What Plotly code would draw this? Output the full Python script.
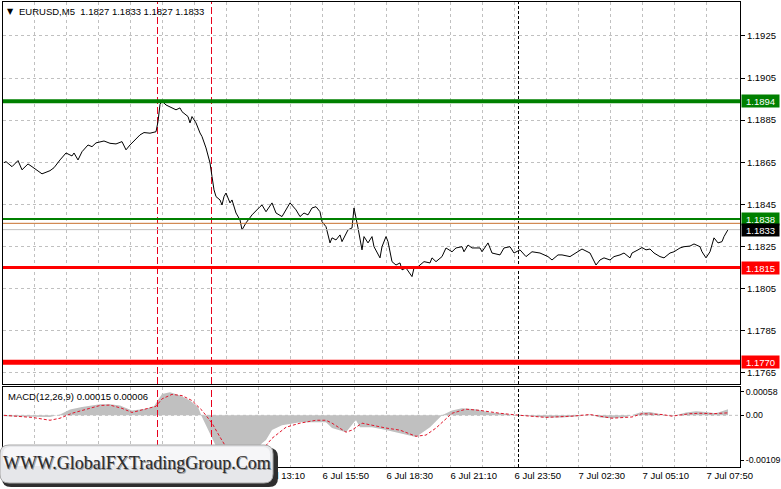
import plotly.graph_objects as go

# ---------------- data ----------------
bar_idx = [0, 1, 4, 7, 9, 12, 14, 16, 19, 23, 25, 28, 31, 34, 35, 37, 39, 42, 44, 46,
           48, 50, 53, 56, 59, 61, 63, 64, 68, 70, 73, 76, 77, 78, 79, 81, 83, 84, 86, 88,
           89, 92, 93, 94, 96, 98, 99, 101, 103, 104, 105, 106, 108, 109, 110, 111, 113, 114, 116, 118,
           119, 121, 124, 128, 129, 131, 134, 136, 139, 143, 146, 148, 150, 152, 154, 156, 158, 159, 161, 163,
           164, 166, 168, 169, 172, 174, 175, 177, 179, 180, 182, 184, 185, 188, 189, 191, 192, 194, 196, 198,
           199, 201, 204, 205, 207, 210, 213, 214, 216, 219, 221, 224, 226, 229, 230, 232, 234, 238, 239, 242,
           244, 248, 250, 253, 255, 258, 261, 264, 268, 272, 274, 277, 279, 283, 286, 289, 293, 296, 298, 300,
           303, 305, 308, 310, 313, 314, 317, 319, 321, 323, 325, 328, 330, 333, 335, 338, 340, 343, 345, 348,
           349, 351, 353, 355, 357, 359, 360, 362]
close = [1.18648, 1.18653, 1.18629, 1.18658, 1.18614, 1.18642, 1.18629, 1.18614, 1.18595, 1.18610,
         1.18624, 1.18661, 1.18694, 1.18680, 1.18694, 1.18661, 1.18700, 1.18732, 1.18724, 1.18742,
         1.18748, 1.18751, 1.18740, 1.18737, 1.18748, 1.18709, 1.18732, 1.18742, 1.18780, 1.18791,
         1.18788, 1.18795, 1.18843, 1.18925, 1.18940, 1.18922, 1.18914, 1.18908, 1.18899, 1.18908,
         1.18890, 1.18867, 1.18837, 1.18867, 1.18837, 1.18789, 1.18772, 1.18718, 1.18647, 1.18582,
         1.18519, 1.18487, 1.18471, 1.18447, 1.18487, 1.18504, 1.18457, 1.18471, 1.18409, 1.18376,
         1.18329, 1.18362, 1.18400, 1.18439, 1.18447, 1.18415, 1.18457, 1.18409, 1.18392, 1.18457,
         1.18424, 1.18392, 1.18409, 1.18400, 1.18433, 1.18439, 1.18415, 1.18368, 1.18344, 1.18267,
         1.18291, 1.18281, 1.18305, 1.18273, 1.18329, 1.18338, 1.18433, 1.18338, 1.18234, 1.18297,
         1.18267, 1.18297, 1.18249, 1.18196, 1.18249, 1.18297, 1.18273, 1.18178, 1.18162, 1.18172,
         1.18139, 1.18148, 1.18107, 1.18148, 1.18154, 1.18178, 1.18172, 1.18196, 1.18178, 1.18202,
         1.18243, 1.18225, 1.18243, 1.18249, 1.18225, 1.18257, 1.18243, 1.18243, 1.18225, 1.18267,
         1.18219, 1.18210, 1.18243, 1.18249, 1.18219, 1.18234, 1.18202, 1.18225, 1.18219, 1.18202,
         1.18186, 1.18210, 1.18210, 1.18202, 1.18219, 1.18238, 1.18219, 1.18162, 1.18186, 1.18196,
         1.18186, 1.18202, 1.18210, 1.18219, 1.18196, 1.18219, 1.18234, 1.18245, 1.18234, 1.18238,
         1.18219, 1.18202, 1.18196, 1.18219, 1.18225, 1.18243, 1.18249, 1.18252, 1.18262, 1.18249,
         1.18225, 1.18196, 1.18225, 1.18291, 1.18267, 1.18273, 1.18297, 1.18330]

hist_idx = [0, 14, 23, 28, 33, 39, 48, 53, 58, 64, 71, 75, 78, 79, 83, 88, 93, 97, 99, 102,
            104, 106, 110, 115, 119, 124, 129, 131, 134, 139, 148, 161, 164, 171, 175, 176, 178, 184, 191, 201,
            206, 213, 219, 224, 229, 236, 243, 249, 256, 263, 271, 279, 288, 293, 298, 304, 311, 318, 323, 329,
            334, 341, 346, 351, 356, 362]
macd_main = [-0.00002, -0.00003, -0.00004, 0.00002, 0.00014, 0.00020, 0.00027, 0.00027, 0.00024, 0.00012,
             0.00016, 0.00022, 0.00045, 0.00052, 0.00056, 0.00048, 0.00036, 0.00020, -0.00004, -0.00036,
             -0.00058, -0.00075, -0.00090, -0.00105, -0.00109, -0.00095, -0.00068, -0.00060, -0.00036, -0.00024,
             -0.00017, -0.00017, -0.00031, -0.00041, -0.00017, -0.00012, -0.00029, -0.00029, -0.00036, -0.00048,
             -0.00053, -0.00029, 0.00000, 0.00012, 0.00017, 0.00015, 0.00007, 0.00005, 0.00000, -0.00002,
             -0.00005, -0.00005, -0.00002, 0.00002, -0.00005, -0.00007, -0.00004, 0.00007, 0.00008, 0.00002,
             -0.00002, 0.00007, 0.00010, 0.00008, 0.00005, 0.00015]

sig_idx = [0, 14, 23, 28, 34, 48, 53, 59, 64, 73, 76, 79, 84, 89, 94, 99, 104, 108, 111, 118,
           124, 129, 134, 141, 148, 156, 161, 164, 171, 174, 179, 191, 198, 206, 211, 216, 224, 231, 238, 248,
           258, 271, 284, 293, 304, 314, 319, 329, 334, 343, 348, 354, 362]
macd_signal = [0.00000, -0.00005, -0.00012, -0.00007, 0.00005, 0.00024, 0.00025, 0.00017, 0.00007, 0.00017,
               0.00022, 0.00040, 0.00051, 0.00048, 0.00036, 0.00012, -0.00019, -0.00053, -0.00077, -0.00095,
               -0.00090, -0.00085, -0.00056, -0.00029, -0.00019, -0.00012, -0.00012, -0.00019, -0.00041, -0.00036,
               -0.00019, -0.00031, -0.00036, -0.00051, -0.00048, -0.00031, 0.00005, 0.00015, 0.00012, 0.00005,
               0.00000, -0.00005, -0.00002, 0.00002, -0.00007, -0.00004, 0.00004, 0.00002, -0.00002, 0.00004,
               0.00005, 0.00004, 0.00006]

price_ticks = [1.1765, 1.1785, 1.1805, 1.1825, 1.1845, 1.1865, 1.1885, 1.1905, 1.1925]
macd_ticks = [-0.00109, 0.0, 0.00058]
macd_tick_text = ["-0.00109", "0.00", "0.00058"]

time_label_idx = [127, 159, 191, 223, 255, 287, 319, 351]
time_labels = ["6 Jul 13:10", "6 Jul 15:50", "6 Jul 18:30", "6 Jul 21:10", "6 Jul 23:50",
               "7 Jul 02:30", "7 Jul 05:10", "7 Jul 07:50"]

level_prices = [1.1894, 1.1838, 1.1815, 1.1770]
level_colors = ["#008000", "#008000", "#FF0000", "#FF0000"]
level_widths = [4, 2, 3, 5]
ask_price = 1.18360
bid_price = 1.1833

red_vlines = [76.75, 103.75]
day_sep = 257.25

title_text = "EURUSD,M5  1.1827 1.1833 1.1827 1.1833"
macd_text = "MACD(12,26,9) 0.00015 0.00006"
watermark = "WWW.GlobalFXTradingGroup.Com"

# ---------------- layout helpers ----------------
W, H = 781, 489
ML, MR, MT, MB = 3, 41, 2, 22
PW = W - ML - MR
PH = H - MT - MB
Y1 = [1.17597, 1.19411]
Y2 = [-0.001258, 0.000702]


def PX(x):
    return (x - ML) / PW


def PY(y):
    return (H - MB - y) / PH


FONT = "Liberation Sans, Arial, sans-serif"
FS = 9.5
grid_idx = list(range(15, 352, 16))
grid_text = [time_labels[time_label_idx.index(g)] if g in time_label_idx else "" for g in grid_idx]

fig = go.Figure()

fig.add_trace(go.Scatter(x=hist_idx, y=macd_main, xaxis="x2", yaxis="y2", mode="lines",
                         line=dict(width=0, color="#C0C0C0"), fill="tozeroy",
                         fillcolor="#C0C0C0", hoverinfo="skip"))
fig.add_trace(go.Scatter(x=sig_idx, y=macd_signal, xaxis="x2", yaxis="y2", mode="lines",
                         line=dict(width=1, color="#E0162B", dash="3px,2px"), hoverinfo="skip"))

# vertical marker lines (red event lines and the black day separator) in both panes
for v, col, dsh in [(red_vlines[0], "#E8001C", "7px,3px"), (red_vlines[1], "#E8001C", "7px,3px"),
                    (day_sep, "#000000", "3px,2px")]:
    fig.add_trace(go.Scatter(x=[v, v], y=Y1, xaxis="x", yaxis="y", mode="lines",
                             line=dict(width=1, color=col, dash=dsh), hoverinfo="skip"))
    fig.add_trace(go.Scatter(x=[v, v], y=Y2, xaxis="x2", yaxis="y2", mode="lines",
                             line=dict(width=1, color=col, dash=dsh), hoverinfo="skip"))

fig.add_trace(go.Scatter(x=bar_idx, y=close, xaxis="x", yaxis="y", mode="lines",
                         line=dict(width=1, color="#000000"), hoverinfo="skip"))

shapes = []
shapes.append(dict(type="line", xref="x2", yref="y2", x0=-0.5, x1=368, y0=0, y1=0,
                   line=dict(color="#C0C0C0", width=1, dash="3px,3px"), layer="below"))
shapes.append(dict(type="line", xref="paper", yref="y", x0=0, x1=1, y0=bid_price, y1=bid_price,
                   line=dict(color="#C0C0C0", width=1)))
shapes.append(dict(type="line", xref="paper", yref="y", x0=0, x1=1, y0=ask_price, y1=ask_price,
                   line=dict(color="#C8702E", width=1)))
for p, c, w in zip(level_prices, level_colors, level_widths):
    shapes.append(dict(type="line", xref="paper", yref="y", x0=0, x1=1, y0=p, y1=p,
                       line=dict(color=c, width=w)))


def rrect(x0, y0, x1, y1, r):
    return (f"M {PX(x0 + r)},{PY(y0)} L {PX(x1 - r)},{PY(y0)} Q {PX(x1)},{PY(y0)} {PX(x1)},{PY(y0 + r)} "
            f"L {PX(x1)},{PY(y1 - r)} Q {PX(x1)},{PY(y1)} {PX(x1 - r)},{PY(y1)} "
            f"L {PX(x0 + r)},{PY(y1)} Q {PX(x0)},{PY(y1)} {PX(x0)},{PY(y1 - r)} "
            f"L {PX(x0)},{PY(y0 + r)} Q {PX(x0)},{PY(y0)} {PX(x0 + r)},{PY(y0)} Z")


shapes.append(dict(type="path", xref="paper", yref="paper", path=rrect(2, 448, 278, 487, 9),
                   fillcolor="#2E2E2E", line=dict(width=0), layer="above"))
shapes.append(dict(type="path", xref="paper", yref="paper", path=rrect(0, 445, 273, 483, 9),
                   fillcolor="#E6E7EA", line=dict(color="#A8A8A8", width=1), layer="above"))
shapes.append(dict(type="path", xref="paper", yref="paper", path=rrect(3, 447, 270, 466, 7),
                   fillcolor="#F6F6F8", line=dict(width=0), layer="above"))

annotations = []
annotations.append(dict(xref="paper", yref="paper", x=PX(5), y=PY(11), xanchor="left", yanchor="middle",
                        text="\u25BC", showarrow=False, font=dict(family="DejaVu Sans", size=8, color="#000000")))
annotations.append(dict(xref="paper", yref="paper", x=PX(17), y=PY(11), xanchor="left", yanchor="middle",
                        text=title_text, showarrow=False, font=dict(family=FONT, size=FS, color="#000000")))
annotations.append(dict(xref="paper", yref="paper", x=PX(6), y=PY(396), xanchor="left", yanchor="middle",
                        text=macd_text, showarrow=False, font=dict(family=FONT, size=FS, color="#000000")))

tag_prices = [level_prices[0], level_prices[1], bid_price, level_prices[2], level_prices[3]]
tag_colors = ["#008000", "#008000", "#000000", "#FF0000", "#FF0000"]
for p, c in zip(tag_prices, tag_colors):
    annotations.append(dict(xref="paper", yref="y", x=1, y=p, xanchor="left", yanchor="middle",
                            xshift=1, text=f"{p:.4f}", showarrow=False, bgcolor=c, borderpad=0,
                            width=37, height=12, align="center",
                            font=dict(family=FONT, size=FS, color="#FFFFFF")))

annotations.append(dict(xref="paper", yref="paper", x=PX(137), y=PY(463), xanchor="center", yanchor="middle",
                        text=watermark, showarrow=False, xshift=1, yshift=-1,
                        font=dict(family="Liberation Serif, Times New Roman, serif", size=18, color="#9A9A9A")))
annotations.append(dict(xref="paper", yref="paper", x=PX(137), y=PY(463), xanchor="center", yanchor="middle",
                        text=watermark, showarrow=False,
                        font=dict(family="Liberation Serif, Times New Roman, serif", size=18, color="#2A2A2A")))

axis_common = dict(showline=True, mirror=True, linecolor="#000000", linewidth=1, zeroline=False,
                   automargin=False)

fig.update_layout(
    template=None,
    width=W, height=H, margin=dict(l=ML, r=MR, t=MT, b=MB, autoexpand=False),
    paper_bgcolor="#FFFFFF", plot_bgcolor="#FFFFFF", showlegend=False,
    font=dict(family=FONT, size=FS, color="#000000"),
    xaxis=dict(domain=[0, 1], range=[-0.5, 368], anchor="y", tickvals=grid_idx, showticklabels=False,
               ticks="", showgrid=True, gridcolor="#C0C0C0", griddash="3px,3px", gridwidth=1, **axis_common),
    yaxis=dict(domain=[PY(384), 1], range=Y1, anchor="x", side="right",
               tickvals=price_ticks, ticktext=[f"{t:.4f}" for t in price_ticks],
               ticks="outside", ticklen=4, tickcolor="#000000",
               showgrid=True, gridcolor="#C0C0C0", griddash="3px,3px", gridwidth=1,
               tickfont=dict(family=FONT, size=FS), **axis_common),
    xaxis2=dict(domain=[0, 1], range=[-0.5, 368], anchor="y2", tickvals=grid_idx, ticktext=grid_text,
                ticks="", ticklabelposition="outside right", showgrid=True, gridcolor="#C0C0C0",
                griddash="3px,3px", gridwidth=1, tickfont=dict(family=FONT, size=FS), **axis_common),
    yaxis2=dict(domain=[0, PY(386.5)], range=Y2, anchor="x2", side="right",
                tickvals=macd_ticks, ticktext=macd_tick_text, ticks="outside", ticklen=3,
                tickcolor="#000000", showgrid=False, tickfont=dict(family=FONT, size=8.8), **axis_common),
    shapes=shapes, annotations=annotations,
)

fig.write_html("out.html", config={"displayModeBar": False},
               post_script="document.body.style.margin='0px';document.body.style.overflow='hidden';")
